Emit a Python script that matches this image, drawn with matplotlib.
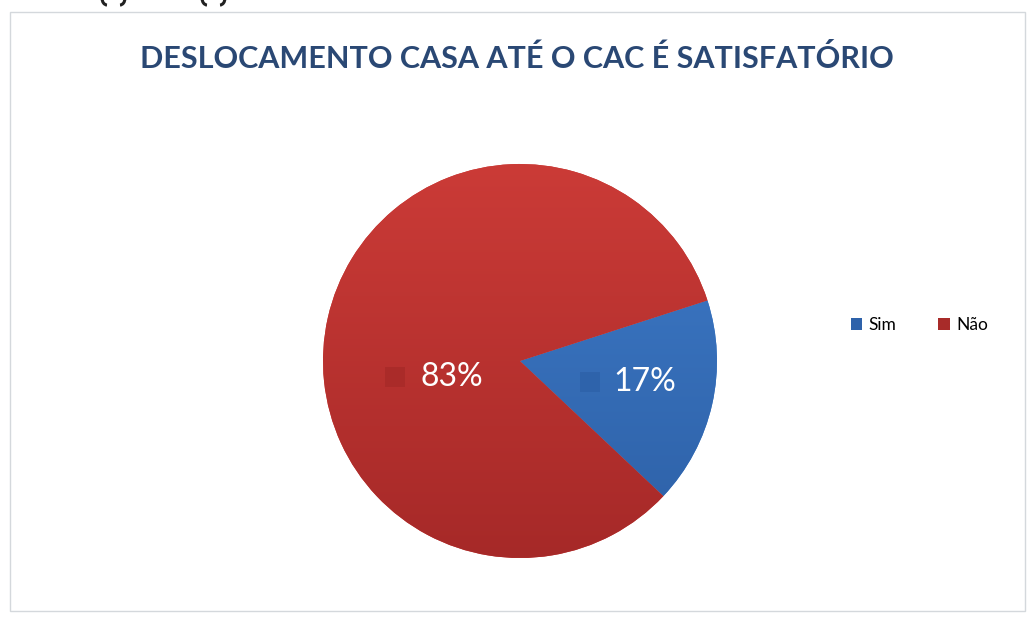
import matplotlib
matplotlib.use("Agg")
import matplotlib.pyplot as plt
import numpy as np
from matplotlib.colors import LinearSegmentedColormap
from matplotlib.patches import Rectangle, Arc

# survey answers
labels = ["Sim", "Não"]
shares = [17, 83]
top_colors = ["#3E7BC9", "#CB3B37"]
bottom_colors = ["#2D60A6", "#A62928"]

plt.rcParams["font.family"] = ["Lato", "DejaVu Sans"]

W, H = 1027, 619
fig = plt.figure(figsize=(W / 100, H / 100), dpi=100)
fig.patch.set_facecolor("white")

# chart frame
fig.add_artist(Rectangle((10 / W, 8 / H), 1015 / W, 599 / H, transform=fig.transFigure,
                         fill=False, edgecolor="#D4D8DC", linewidth=1.0))

# bracket tails from the line above the chart
for x0 in (103, 124, 203, 224):
    side = -1 if x0 in (103, 203) else 1
    t1, t2 = (180, 270) if side < 0 else (270, 360)
    fig.add_artist(Arc((x0 - side * 4, H + 2), 10, 14, theta1=t1, theta2=t2,
                       transform=None, color="#222222", linewidth=2.2))

fig.text(517 / W, 1 - 58 / H, "DESLOCAMENTO CASA ATÉ O CAC É SATISFATÓRIO",
         ha="center", va="center", fontsize=22, fontweight="bold", color="#2A4874")

cx, cy, r = 520, 361, 197
ax = fig.add_axes([(cx - r) / W, (H - cy - r) / H, 2 * r / W, 2 * r / H])
ax.set_xlim(-1, 1)
ax.set_ylim(-1, 1)
ax.set_aspect("equal")
ax.axis("off")

wedges, _ = ax.pie(shares, colors=top_colors, startangle=-43.3, counterclock=True,
                   radius=1.0, wedgeprops=dict(linewidth=0))

# vertical gradient fill for each slice
grad = np.linspace(0, 1, 256).reshape(-1, 1)
for w, c_top, c_bot in zip(wedges, top_colors, bottom_colors):
    cmap = LinearSegmentedColormap.from_list("g", [c_bot, c_top])
    im = ax.imshow(grad, extent=[-1, 1, -1, 1], origin="lower", cmap=cmap,
                   aspect="auto", zorder=2, interpolation="bilinear")
    im.set_clip_path(w)
ax.set_xlim(-1, 1)
ax.set_ylim(-1, 1)

# data labels with their legend keys
label_pos = [(0.635, -0.107), (-0.345, -0.081)]
key_pos = [(0.355, -0.107), (-0.635, -0.081)]
key_colors = ["#2E62AA", "#A82B29"]
for s, (tx, ty), (kx, ky), kc in zip(shares, label_pos, key_pos, key_colors):
    ax.text(tx, ty, f"{s}%", ha="center", va="center", fontsize=23, color="white", zorder=5)
    ax.add_patch(Rectangle((kx - 0.05, ky - 0.05), 0.1, 0.1, facecolor=kc,
                           edgecolor="none", alpha=0.85, zorder=5))

handles = [Rectangle((0, 0), 1, 1, facecolor=c) for c in key_colors]
fig.legend(handles, labels, loc="center left", bbox_to_anchor=(835 / W, 1 - 325 / H),
           ncol=2, frameon=False, fontsize=12.5, handlelength=0.65, handleheight=0.65,
           handletextpad=0.4, columnspacing=2.4)

fig.savefig("out.png", dpi=100)
